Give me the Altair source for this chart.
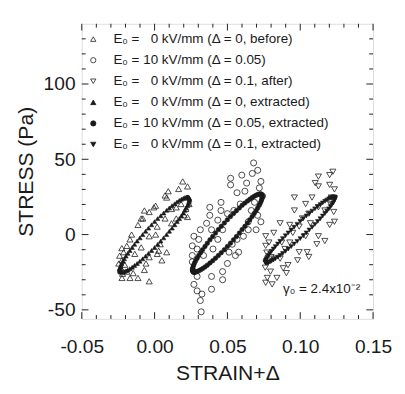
import altair as alt
import pandas as pd

W, H = 304, 308
FONT = "Liberation Sans"
INK = "#1a1a1a"

series_labels = [
    "E\u2080 = \u00a0\u00a00 kV/mm (\u0394 = 0, before)",
    "E\u2080 = 10 kV/mm (\u0394 = 0.05)",
    "E\u2080 = \u00a0\u00a00 kV/mm (\u0394 = 0.1, after)",
    "E\u2080 = \u00a0\u00a00 kV/mm (\u0394 = 0, extracted)",
    "E\u2080 = 10 kV/mm (\u0394 = 0.05, extracted)",
    "E\u2080 = \u00a0\u00a00 kV/mm (\u0394 = 0.1, extracted)",
]
shapes = ["triangle-up", "circle", "triangle-down", "triangle-up", "circle", "triangle-down"]
fills = ["transparent", "transparent", "transparent", INK, INK, INK]
strokes = [INK] * 6

# raw data (open symbols)
before_x = [0.0193, 0.0165, 0.0226, 0.0094, 0.0083, 0.0072, -0.0005, -0.007, -0.0092, -0.0114,
            -0.0158, -0.0169, -0.0191, -0.0213, -0.0224, -0.0224, -0.0169, -0.0114, -0.0037, -0.007,
            -0.0059, -0.0037, 0.0028, 0.0083, 0.0039, 0.0007, 0.0018, 0.0072, 0.0116, 0.0149,
            0.0204, 0.0226, 0.0215, 0.0182, 0.0149, 0.0116, -0.0037, -0.0092, -0.0136, -0.0224,
            -0.0246, -0.0081, -0.0037, 0.0007, 0.0226, 0.0237, -0.0191, -0.0147, 0.005, 0.0018,
            -0.0235, -0.022, -0.0205, -0.024, -0.0225]
before_y = [35.3, 30.3, 32.0, 28.8, 24.6, 26.0, 18.1, 16.0, 10.7, 6.4,
            0.0, -3.2, -7.5, -11.7, -17.0, -28.8, -28.8, -28.8, -31.0, -23.5,
            -19.2, -15.0, -10.7, -11.7, -6.4, 0.0, 5.3, 10.7, 7.5, 10.7,
            12.8, 11.7, 17.1, 20.3, 18.1, 17.0, -1.1, -8.5, -12.8, -23.5,
            -19.2, 10.7, 15.0, 19.2, 24.6, 20.3, -24.6, -25.6, -17.1, -12.8,
            -22.0, -26.0, -20.0, -14.0, -9.0]

field_x = [0.068, 0.0671, 0.0708, 0.073, 0.0599, 0.0522, 0.0522, 0.0632, 0.0566, 0.0456,
           0.0456, 0.0379, 0.0379, 0.0357, 0.0314, 0.0303, 0.027, 0.0259, 0.0259, 0.027,
           0.0292, 0.0314, 0.032, 0.0325, 0.0391, 0.0391, 0.0467, 0.0467, 0.05, 0.0555,
           0.0577, 0.0533, 0.061, 0.0643, 0.0697, 0.0708, 0.073, 0.0643, 0.0664, 0.0434,
           0.0401, 0.0336, 0.027, 0.0292, 0.0434, 0.05, 0.0544, 0.0588, 0.062, 0.0719,
           0.0391, 0.0467, 0.0292, 0.0259, 0.0511, 0.0566, 0.0741, 0.0686]
field_y = [47.6, 40.6, 42.7, 35.3, 39.5, 37.4, 33.0, 34.2, 27.8, 21.4,
           16.0, 18.1, 12.8, 7.5, 3.2, -3.2, -1.1, -7.5, -13.9, -33.1,
           -37.4, -43.8, -51.3, -39.5, -27.8, -36.3, -24.6, -30.0, -19.2, -13.9,
           -11.7, -6.4, -1.1, 3.2, 3.2, 12.8, 8.5, 8.5, 16.0, -3.2,
           -9.6, -13.9, -24.6, -27.8, 9.6, 13.9, 16.0, 20.3, 28.8, 31.0,
           3.2, 3.2, -9.6, -18.1, -11.7, -3.2, 25.6, 21.4]

after_x = [0.1125, 0.1202, 0.1224, 0.1125, 0.1202, 0.1235, 0.096, 0.096, 0.1037, 0.1059,
           0.1125, 0.107, 0.1202, 0.1235, 0.1114, 0.1048, 0.1059, 0.0993, 0.0916, 0.0905,
           0.0883, 0.0895, 0.0862, 0.0928, 0.0949, 0.0763, 0.0763, 0.0785, 0.0818, 0.0796,
           0.0774, 0.0807, 0.0763, 0.084, 0.0862, 0.0818, 0.0873, 0.0993, 0.1015, 0.1169,
           0.1081, 0.1103, 0.1213, 0.1125, 0.1169, 0.0982, 0.1037, 0.0928,
           0.077, 0.078, 0.076, 0.080, 0.121, 0.123]
after_y = [38.5, 39.5, 41.7, 32.0, 33.0, 30.0, 24.6, 16.0, 20.3, 13.9,
           18.1, 7.5, 6.4, 8.5, -6.4, -11.7, -14.9, -11.7, -20.3, -25.6,
           -22.4, -9.6, 7.5, 6.4, 1.1, -1.1, -7.5, -5.3, 1.1, -24.6,
           -28.8, -33.1, -32.0, -28.8, -16.0, -16.0, -5.3, 5.3, 10.7, 16.0,
           24.6, 34.2, 24.6, -1.1, -4.3, -17.1, -1.1, -5.3,
           -12.0, -18.0, -22.0, -15.0, 20.0, 15.0]

# extracted loops (filled symbols)
ext0_x = [0.0, 0.0042, 0.0082, 0.012, 0.0154, 0.0184, 0.0208, 0.0226, 0.0236, 0.024, 0.0236, 0.0226,
          0.0208, 0.0184, 0.0154, 0.012, 0.0082, 0.0042, 0.0, -0.0042, -0.0082, -0.012, -0.0154, -0.0184,
          -0.0208, -0.0226, -0.0236, -0.024, -0.0236, -0.0226, -0.0208, -0.0184, -0.0154, -0.012, -0.0082, -0.0042,
          0.0021, 0.0062, 0.0101, 0.0138, 0.0170, 0.0197, 0.0218, 0.0232, 0.0239, 0.0239, 0.0232, 0.0218,
          0.0197, 0.0170, 0.0138, 0.0101, 0.0062, 0.0021, -0.0021, -0.0062, -0.0101, -0.0138, -0.0170, -0.0197,
          -0.0218, -0.0232, -0.0239, -0.0239, -0.0232, -0.0218, -0.0197, -0.0170, -0.0138, -0.0101, -0.0062, -0.0021]
ext0_y = [8.6, 12.5, 16.1, 19.2, 21.7, 23.5, 24.6, 25.0, 24.6, 23.5, 21.7, 19.2,
          16.1, 12.5, 8.6, 4.3, 0.0, -4.3, -8.6, -12.5, -16.1, -19.2, -21.7, -23.5,
          -24.6, -25.0, -24.6, -23.5, -21.7, -19.2, -16.1, -12.5, -8.6, -4.3, 0.0, 4.3,
          10.6, 14.3, 17.7, 20.5, 22.7, 24.1, 24.9, 24.9, 24.1, 22.7, 20.5, 17.7,
          14.3, 10.6, 6.5, 2.2, -2.2, -6.5, -10.6, -14.3, -17.7, -20.5, -22.7, -24.1,
          -24.9, -24.9, -24.1, -22.7, -20.5, -17.7, -14.3, -10.6, -6.5, -2.2, 2.2, 6.5]
ext1_x = [0.05, 0.0542, 0.0582, 0.062, 0.0654, 0.0684, 0.0708, 0.0726, 0.0736, 0.074, 0.0736, 0.0726,
          0.0708, 0.0684, 0.0654, 0.062, 0.0582, 0.0542, 0.05, 0.0458, 0.0418, 0.038, 0.0346, 0.0316,
          0.0292, 0.0274, 0.0264, 0.026, 0.0264, 0.0274, 0.0292, 0.0316, 0.0346, 0.038, 0.0418, 0.0458,
          0.0521, 0.0562, 0.0601, 0.0638, 0.0670, 0.0697, 0.0718, 0.0732, 0.0739, 0.0739, 0.0732, 0.0718,
          0.0697, 0.0670, 0.0638, 0.0601, 0.0562, 0.0521, 0.0479, 0.0438, 0.0399, 0.0362, 0.0330, 0.0303,
          0.0282, 0.0268, 0.0261, 0.0261, 0.0268, 0.0282, 0.0303, 0.0330, 0.0362, 0.0399, 0.0438, 0.0479]
ext1_y = [9.9, 14.0, 17.7, 20.9, 23.5, 25.4, 26.6, 27.0, 26.6, 25.4, 23.5, 20.9,
          17.7, 14.0, 9.9, 5.5, 1.0, -3.5, -7.9, -12.0, -15.7, -18.9, -21.5, -23.4,
          -24.6, -25.0, -24.6, -23.4, -21.5, -18.9, -15.7, -12.0, -7.9, -3.5, 1.0, 5.5,
          12.0, 15.9, 19.4, 22.3, 24.6, 26.1, 26.9, 26.9, 26.1, 24.6, 22.3, 19.4,
          15.9, 12.0, 7.7, 3.3, -1.3, -5.7, -10.0, -13.9, -17.4, -20.3, -22.6, -24.1,
          -24.9, -24.9, -24.1, -22.6, -20.3, -17.4, -13.9, -10.0, -5.7, -1.3, 3.3, 7.7]
ext2_x = [0.1, 0.1042, 0.1082, 0.112, 0.1154, 0.1184, 0.1208, 0.1226, 0.1236, 0.124, 0.1236, 0.1226,
          0.1208, 0.1184, 0.1154, 0.112, 0.1082, 0.1042, 0.1, 0.0958, 0.0918, 0.088, 0.0846, 0.0816,
          0.0792, 0.0774, 0.0764, 0.076, 0.0764, 0.0774, 0.0792, 0.0816, 0.0846, 0.088, 0.0918, 0.0958,
          0.1021, 0.1062, 0.1101, 0.1138, 0.1170, 0.1197, 0.1218, 0.1232, 0.1239, 0.1239, 0.1232, 0.1218,
          0.1197, 0.1170, 0.1138, 0.1101, 0.1062, 0.1021, 0.0979, 0.0938, 0.0899, 0.0862, 0.0830, 0.0803,
          0.0782, 0.0768, 0.0761, 0.0761, 0.0768, 0.0782, 0.0803, 0.0830, 0.0862, 0.0899, 0.0938, 0.0979]
ext2_y = [8.7, 12.3, 15.6, 18.6, 21.0, 22.9, 24.3, 24.9, 24.9, 24.3, 22.9, 21.0,
          18.6, 15.6, 12.3, 8.7, 4.9, 1.1, -2.7, -6.3, -9.6, -12.6, -15.0, -16.9,
          -18.3, -18.9, -18.9, -18.3, -16.9, -15.0, -12.6, -9.6, -6.3, -2.7, 1.1, 4.9,
          10.5, 14.0, 17.1, 19.9, 22.1, 23.7, 24.7, 25.0, 24.7, 23.7, 22.1, 19.9,
          17.1, 14.0, 10.5, 6.8, 3.0, -0.8, -4.5, -8.0, -11.1, -13.9, -16.1, -17.7,
          -18.7, -19.0, -18.7, -17.7, -16.1, -13.9, -11.1, -8.0, -4.5, -0.8, 3.0, 6.8]

x_major = [-0.05, 0.0, 0.05, 0.10, 0.15]
x_minor = [-0.04, -0.03, -0.02, -0.01, 0.01, 0.02, 0.03, 0.04, 0.06, 0.07, 0.08, 0.09,
           0.11, 0.12, 0.13, 0.14]
y_major = [-50, 0, 50, 100]
y_minor = [-40, -30, -20, -10, 10, 20, 30, 40, 60, 70, 80, 90, 110, 120, 130]

annotation = "\u03b3\u2080 = 2.4x10\u207b\u00b2"

def frame(label, xs, ys):
    return pd.DataFrame({"x": xs, "y": ys, "series": label})

df_open = pd.concat([frame(series_labels[0], before_x, before_y),
                     frame(series_labels[1], field_x, field_y),
                     frame(series_labels[2], after_x, after_y)])
df_ext = pd.concat([frame(series_labels[3], ext0_x, ext0_y),
                    frame(series_labels[4], ext1_x, ext1_y),
                    frame(series_labels[5], ext2_x, ext2_y)])

xsc = alt.Scale(domain=[-0.05, 0.15], nice=False, zero=False)
ysc = alt.Scale(domain=[-56, 140], nice=False, zero=False)

leg = alt.Legend(title=None, orient="none", legendX=5, legendY=9, padding=0,
                 labelFont=FONT, labelFontSize=14, labelColor=INK, labelLimit=500,
                 labelOffset=14, rowPadding=8, symbolSize=30, symbolStrokeWidth=0.8)

minus_fix = "replace(datum.label, '\u2212', '-')"

x_axis = alt.Axis(values=x_major, format=".2f", labelExpr=minus_fix, labelFlush=False,
                  ticks=False, domain=False, grid=False, labelFont=FONT, labelFontSize=20,
                  labelColor=INK, labelPadding=19, title="STRAIN+\u0394",
                  titleFont=FONT, titleFontSize=22, titleFontWeight="normal",
                  titleColor=INK, titlePadding=7)
y_axis = alt.Axis(values=y_major, format="d", labelExpr=minus_fix, labelFlush=False,
                  ticks=False, domain=False, grid=False, labelFont=FONT, labelFontSize=20,
                  labelColor=INK, labelPadding=7, title="STRESS (Pa)",
                  titleFont=FONT, titleFontSize=22, titleFontWeight="normal",
                  titleColor=INK, titlePadding=6)

style = dict(
    shape=alt.Shape("series:N", scale=alt.Scale(domain=series_labels, range=shapes), legend=leg),
    fill=alt.Fill("series:N", scale=alt.Scale(domain=series_labels, range=fills), legend=leg),
    stroke=alt.Stroke("series:N", scale=alt.Scale(domain=series_labels, range=strokes), legend=leg),
)

open_pts = alt.Chart(df_open).mark_point(filled=True, size=40, strokeWidth=0.8, opacity=1).encode(
    x=alt.X("x:Q", scale=xsc, axis=x_axis), y=alt.Y("y:Q", scale=ysc, axis=y_axis), **style)
ext_pts = alt.Chart(df_ext).mark_point(filled=True, size=22, strokeWidth=0.6, opacity=1).encode(
    x=alt.X("x:Q", scale=xsc, axis=None), y=alt.Y("y:Q", scale=ysc, axis=None), **style)

def xticks(vals, length):
    d = pd.DataFrame({"v": vals})
    base = alt.Chart(d).mark_rule(color=INK, strokeWidth=1)
    xe = alt.X("v:Q", scale=xsc, axis=None)
    return [base.encode(x=xe, y=alt.value(H), y2=alt.value(H - length)),
            base.encode(x=xe, y=alt.value(0), y2=alt.value(length))]

def yticks(vals, length):
    d = pd.DataFrame({"v": vals})
    base = alt.Chart(d).mark_rule(color=INK, strokeWidth=1)
    ye = alt.Y("v:Q", scale=ysc, axis=None)
    return [base.encode(y=ye, x=alt.value(0), x2=alt.value(length)),
            base.encode(y=ye, x=alt.value(W), x2=alt.value(W - length))]

tick_layers = xticks(x_major, 7) + xticks(x_minor, 4) + yticks(y_major, 7) + yticks(y_minor, 4)

note = alt.Chart(pd.DataFrame({"t": [annotation]})).mark_text(
    font=FONT, fontSize=14, color=INK, align="left", baseline="middle"
).encode(text="t:N", x=alt.value(210), y=alt.value(277))

chart = alt.layer(open_pts, ext_pts, *tick_layers, note).resolve_axis(
    x="independent", y="independent"
).properties(
    width=W, height=H, padding={"left": 7, "top": 7, "right": 5, "bottom": 5}
).configure_view(stroke=INK, strokeWidth=1.3).configure(background="white")

chart.save("out.html", embed_options={"renderer": "svg", "actions": False})
